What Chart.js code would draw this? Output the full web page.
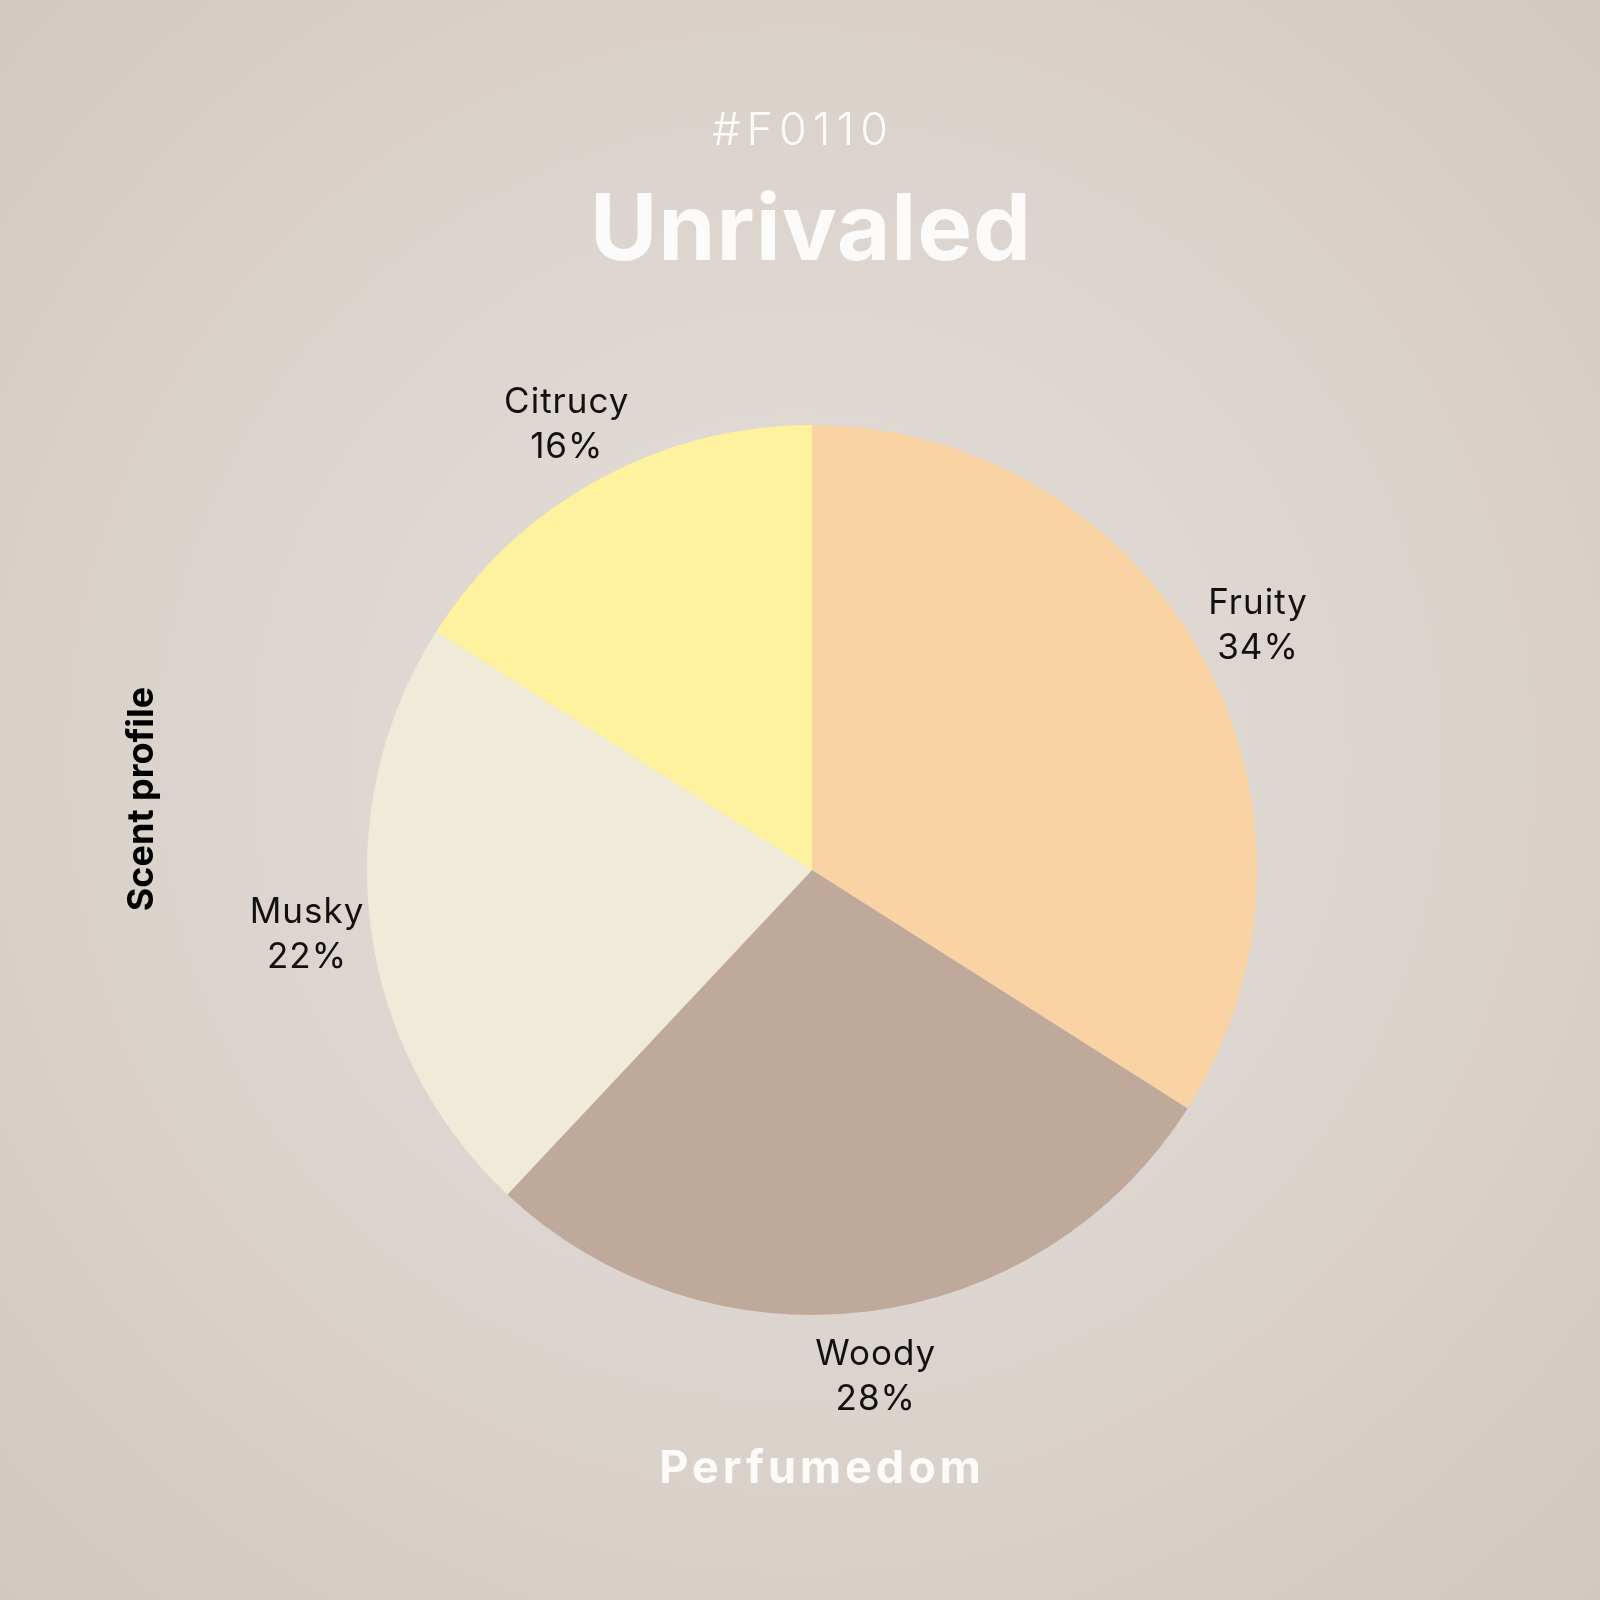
<!DOCTYPE html>
<html lang="en">
<head>
  <meta charset="UTF-8" />
  <title>Unrivaled scent profile</title>
  <script src="https://cdn.jsdelivr.net/npm/chart.js@4.4.0/dist/chart.umd.min.js"></script>
  <style>
    html, body {
      margin: 0;
      padding: 0;
    }

    body {
      width: 1600px;
      height: 1600px;
      background: radial-gradient(circle at 800px 760px, #e4ded9 0%, #ddd6d0 45%, #d1c8bf 100%);
      overflow: hidden;
    }

    canvas {
      display: block;
    }
  </style>
</head>
<body>

  <canvas id="scentChart" width="1600" height="1600"></canvas>

  <script>
    const categories = ['Fruity', 'Woody', 'Musky', 'Citrucy'];
    const shares = [34, 28, 22, 16];
    const sliceColors = ['#f9d3a4', '#bfa99b', '#f0ead9', '#fff29e'];

    const FONT = 'Inter, "Open Sans", sans-serif';

    // Slice labels ("Name" over "NN%") just outside each arc
    const sliceLabels = {
      id: 'sliceLabels',
      afterDatasetsDraw(chart) {
        const ctx = chart.ctx;
        const meta = chart.getDatasetMeta(0);
        ctx.save();
        ctx.fillStyle = '#111111';
        ctx.font = '400 35px ' + FONT;
        ctx.letterSpacing = '1px';
        ctx.textAlign = 'center';
        ctx.textBaseline = 'middle';
        meta.data.forEach((arc, i) => {
          const p = arc.getProps(['x', 'y', 'startAngle', 'endAngle', 'outerRadius'], true);
          const mid = (p.startAngle + p.endAngle) / 2;
          const r = p.outerRadius + 64;
          const lx = p.x + Math.cos(mid) * r;
          const ly = p.y + Math.sin(mid) * r;
          ctx.fillText(categories[i], lx, ly - 21);
          ctx.fillText(shares[i] + '%', lx, ly + 24);
        });
        ctx.restore();
      }
    };

    // Headings, footer and side caption
    const captions = {
      id: 'captions',
      afterDraw(chart) {
        const ctx = chart.ctx;
        ctx.save();
        ctx.textAlign = 'center';
        ctx.textBaseline = 'alphabetic';
        ctx.fillStyle = '#fcfbfa';

        ctx.font = '300 45px ' + FONT;
        ctx.letterSpacing = '6px';
        ctx.fillText('#F0110', 803, 145);

        ctx.font = '700 92px ' + FONT;
        ctx.letterSpacing = '1px';
        ctx.fillText('Unrivaled', 811, 260);

        ctx.font = '700 45px ' + FONT;
        ctx.letterSpacing = '4px';
        ctx.fillText('Perfumedom', 822, 1483);

        ctx.fillStyle = '#000000';
        ctx.font = '700 36px ' + FONT;
        ctx.letterSpacing = '0px';
        ctx.translate(142, 799);
        ctx.rotate(-Math.PI / 2);
        ctx.textBaseline = 'middle';
        ctx.fillText('Scent profile', 0, 0);
        ctx.restore();
      }
    };

    const scentChart = new Chart(document.getElementById('scentChart').getContext('2d'), {
      type: 'pie',
      data: {
        labels: categories,
        datasets: [{
          data: shares,
          backgroundColor: sliceColors,
          borderWidth: 0,
          hoverOffset: 0
        }]
      },
      options: {
        responsive: false,
        devicePixelRatio: 1,
        animation: false,
        layout: {
          padding: { left: 367, right: 343, top: 425, bottom: 285 }
        },
        plugins: {
          legend: { display: false },
          tooltip: { enabled: false },
          title: { display: false }
        }
      },
      plugins: [sliceLabels, captions]
    });
  </script>

</body>
</html>
